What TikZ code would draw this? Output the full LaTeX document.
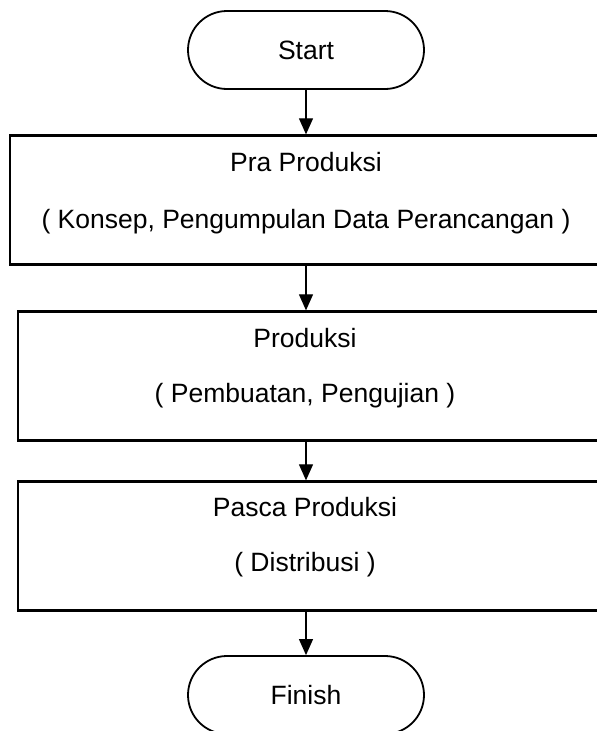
\documentclass[tikz,border=0pt]{standalone}
\usepackage{fontspec}
\setmainfont{Liberation Sans}
\usetikzlibrary{arrows.meta}

\tikzset{
  terminal/.style={draw, line width=1.8pt, rounded corners=39pt,
    minimum width=236pt, minimum height=78pt, font=\fontsize{26.5}{31}\selectfont},
  stage/.style={draw, line width=2.3pt, minimum height=129pt},
  stagetext/.style={align=center, font=\fontsize{26.5}{31}\selectfont},
  flow/.style={-{Triangle[width=14pt,length=16pt]}, line width=1.1pt},
}

\begin{document}
\begin{tikzpicture}[x=1pt,y=-1pt]
    \clip (0,0) rectangle (597,731);

    \node[terminal] (start) at (306,50) {Start};

    \node[stage, minimum width=592pt] (pra) at (306,200) {};
    \node[stagetext] (praText) at ([yshift=7pt]pra.center)
        {Pra Produksi\\[26pt]( Konsep, Pengumpulan Data Perancangan )};

    \node[stage, minimum width=584pt] (prod) at (310,376) {};
    \node[stagetext] (prodText) at ([yshift=8pt,xshift=-5pt]prod.center)
        {Produksi\\[24pt]( Pembuatan, Pengujian )};

    \node[stage, minimum width=584pt] (pasca) at (310,546) {};
    \node[stagetext] (pascaText) at ([yshift=9pt,xshift=-5pt]pasca.center)
        {Pasca Produksi\\[24pt]( Distribusi )};

    \node[terminal] (finish) at (306,695) {Finish};

    % alur
    \draw[flow] (start) -- (pra);
    \draw[flow] (pra.south) -- (pra.south |- prod.north);
    \draw[flow] (pra.south |- prod.south) -- (pra.south |- pasca.north);
    \draw[flow] (pra.south |- pasca.south) -- (finish);
\end{tikzpicture}
\end{document}
